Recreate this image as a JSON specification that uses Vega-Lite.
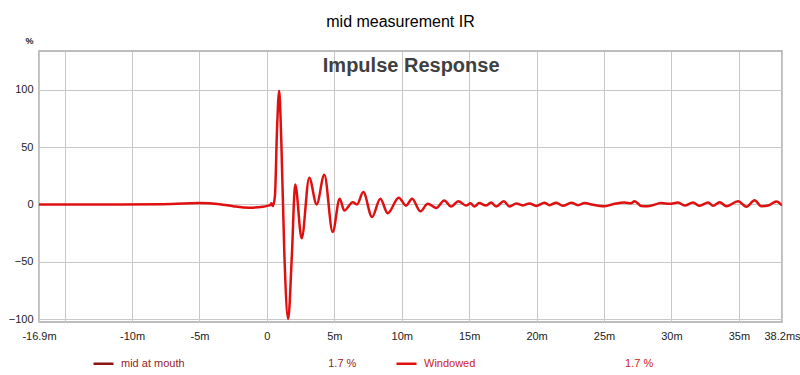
{
  "$schema": "https://vega.github.io/schema/vega-lite/v6.json",
  "width": 743,
  "height": 271,
  "autosize": {"type": "none"},
  "padding": {"left": 39, "top": 51, "right": 18, "bottom": 53},
  "background": "white",
  "title": {"text": "mid measurement IR", "font": "Liberation Sans", "fontSize": 16, "fontWeight": "normal", "color": "#000000", "offset": 6, "dx": -10, "anchor": "middle"},
  "config": {
    "view": {"stroke": "#a8a8a8", "strokeWidth": 1.5},
    "axis": {"gridColor": "#c8c8c8", "gridWidth": 1, "domain": false, "ticks": false, "labelFont": "Liberation Sans", "labelFontSize": 11, "labelColor": "#222222", "titleFont": "Liberation Sans"}
  },
  "layer": [
    {
      "data": {"values": [
        {"t": -16.9, "v": 0, "series": "Windowed"},
        {"t": -12, "v": 0, "series": "Windowed"},
        {"t": -8, "v": 0.3, "series": "Windowed"},
        {"t": -5, "v": 1.2, "series": "Windowed"},
        {"t": -3.5, "v": 0.3, "series": "Windowed"},
        {"t": -2.5, "v": -1.5, "series": "Windowed"},
        {"t": -1.3, "v": -2.8, "series": "Windowed"},
        {"t": -0.3, "v": -2, "series": "Windowed"},
        {"t": 0.1, "v": -1, "series": "Windowed"},
        {"t": 0.25, "v": -0.5, "series": "Windowed"},
        {"t": 0.33, "v": 1, "series": "Windowed"},
        {"t": 0.45, "v": -1.3, "series": "Windowed"},
        {"t": 0.6, "v": 8, "series": "Windowed"},
        {"t": 0.75, "v": 65, "series": "Windowed"},
        {"t": 0.91, "v": 99.4, "series": "Windowed"},
        {"t": 1.07, "v": 55, "series": "Windowed"},
        {"t": 1.3, "v": -45, "series": "Windowed"},
        {"t": 1.58, "v": -100, "series": "Windowed"},
        {"t": 1.85, "v": -45, "series": "Windowed"},
        {"t": 2.1, "v": 17.5, "series": "Windowed"},
        {"t": 2.58, "v": -29.5, "series": "Windowed"},
        {"t": 3.14, "v": 23.4, "series": "Windowed"},
        {"t": 3.69, "v": 0, "series": "Windowed"},
        {"t": 4.26, "v": 26, "series": "Windowed"},
        {"t": 4.88, "v": -24, "series": "Windowed"},
        {"t": 5.4, "v": 5, "series": "Windowed"},
        {"t": 5.74, "v": -5.3, "series": "Windowed"},
        {"t": 6.36, "v": 2, "series": "Windowed"},
        {"t": 6.68, "v": 0, "series": "Windowed"},
        {"t": 7.15, "v": 10.8, "series": "Windowed"},
        {"t": 7.8, "v": -11, "series": "Windowed"},
        {"t": 8.41, "v": 5, "series": "Windowed"},
        {"t": 8.96, "v": -7.6, "series": "Windowed"},
        {"t": 9.78, "v": 5.9, "series": "Windowed"},
        {"t": 10.32, "v": -1, "series": "Windowed"},
        {"t": 10.77, "v": 5, "series": "Windowed"},
        {"t": 11.38, "v": -6, "series": "Windowed"},
        {"t": 11.93, "v": 0.6, "series": "Windowed"},
        {"t": 12.55, "v": -3, "series": "Windowed"},
        {"t": 13.16, "v": 3.5, "series": "Windowed"},
        {"t": 13.66, "v": -1.8, "series": "Windowed"},
        {"t": 14.2, "v": 2.9, "series": "Windowed"},
        {"t": 14.77, "v": -0.9, "series": "Windowed"},
        {"t": 15.1, "v": 1, "series": "Windowed"},
        {"t": 15.39, "v": -1.8, "series": "Windowed"},
        {"t": 15.74, "v": 1.2, "series": "Windowed"},
        {"t": 16.26, "v": -0.9, "series": "Windowed"},
        {"t": 16.63, "v": 1.7, "series": "Windowed"},
        {"t": 17.0, "v": -1.8, "series": "Windowed"},
        {"t": 17.57, "v": 2.9, "series": "Windowed"},
        {"t": 17.99, "v": -1.8, "series": "Windowed"},
        {"t": 18.49, "v": 0.9, "series": "Windowed"},
        {"t": 18.98, "v": -0.9, "series": "Windowed"},
        {"t": 19.47, "v": 0.9, "series": "Windowed"},
        {"t": 19.97, "v": -1.3, "series": "Windowed"},
        {"t": 20.59, "v": 1.5, "series": "Windowed"},
        {"t": 20.96, "v": -0.6, "series": "Windowed"},
        {"t": 21.45, "v": 1.5, "series": "Windowed"},
        {"t": 21.95, "v": -1.2, "series": "Windowed"},
        {"t": 22.57, "v": 1.5, "series": "Windowed"},
        {"t": 23.07, "v": -0.6, "series": "Windowed"},
        {"t": 23.56, "v": 1.2, "series": "Windowed"},
        {"t": 24.18, "v": -0.3, "series": "Windowed"},
        {"t": 25.04, "v": -1.5, "series": "Windowed"},
        {"t": 25.78, "v": 0.6, "series": "Windowed"},
        {"t": 26.53, "v": 1.7, "series": "Windowed"},
        {"t": 27.0, "v": 1.0, "series": "Windowed"},
        {"t": 27.27, "v": 2.9, "series": "Windowed"},
        {"t": 27.77, "v": -1.3, "series": "Windowed"},
        {"t": 28.26, "v": -1.5, "series": "Windowed"},
        {"t": 29.25, "v": 1.2, "series": "Windowed"},
        {"t": 29.87, "v": 0.6, "series": "Windowed"},
        {"t": 30.49, "v": 1.7, "series": "Windowed"},
        {"t": 30.98, "v": -0.9, "series": "Windowed"},
        {"t": 31.6, "v": 1.7, "series": "Windowed"},
        {"t": 32.09, "v": -1.2, "series": "Windowed"},
        {"t": 32.72, "v": 1.7, "series": "Windowed"},
        {"t": 33.09, "v": -1.2, "series": "Windowed"},
        {"t": 33.58, "v": 2, "series": "Windowed"},
        {"t": 34.08, "v": -1.5, "series": "Windowed"},
        {"t": 34.94, "v": 2.9, "series": "Windowed"},
        {"t": 35.56, "v": -2, "series": "Windowed"},
        {"t": 36.17, "v": 3.8, "series": "Windowed"},
        {"t": 36.67, "v": -1.5, "series": "Windowed"},
        {"t": 37.17, "v": -0.9, "series": "Windowed"},
        {"t": 37.79, "v": 2.6, "series": "Windowed"},
        {"t": 38.2, "v": -0.9, "series": "Windowed"}
      ]},
      "mark": {"type": "line", "interpolate": "monotone", "strokeWidth": 2.5, "clip": true},
      "encoding": {
        "x": {"field": "t", "type": "quantitative",
          "scale": {"domain": [-16.9, 38.2], "nice": false, "zero": false},
          "axis": {"title": null, "values": [-16.9, -15, -10, -5, 0, 5, 10, 15, 20, 25, 30, 35, 38.2],
            "labelExpr": "datum.value == -15 ? '' : datum.value == 0 ? '0' : datum.value == 38.2 ? '38.2ms' : datum.value + 'm'",
            "labelPadding": 8, "labelFlush": false}},
        "y": {"field": "v", "type": "quantitative",
          "scale": {"domain": [-102.6, 134], "nice": false, "zero": false},
          "axis": {"title": "%", "titleAngle": 0, "titleX": -10, "titleY": -6, "titleAlign": "center", "titleFontSize": 9, "titleFontWeight": "bold", "titleColor": "#222222",
            "values": [-100, -50, 0, 50, 100], "labelPadding": 6}},
        "color": {"field": "series", "type": "nominal",
          "scale": {"domain": ["mid at mouth", "Windowed"], "range": ["#8b1414", "#e01010"]},
          "legend": {"title": null, "orient": "none", "legendX": 53, "legendY": 301, "direction": "horizontal",
            "symbolType": "stroke", "symbolSize": 400, "symbolStrokeWidth": 2.5, "labelFont": "Liberation Sans", "labelFontSize": 11, "labelColor": "#a01818",
            "labelOffset": 6, "columnPadding": 34, "labelLimit": 400,
            "labelExpr": "datum.label == 'Windowed' ? datum.label + '\u00a0\u00a0\u00a0\u00a0\u00a0\u00a0\u00a0\u00a0\u00a0\u00a0\u00a0\u00a0\u00a0\u00a0\u00a0\u00a0\u00a0\u00a0\u00a0\u00a0\u00a0\u00a0\u00a0\u00a0\u00a0\u00a0\u00a0\u00a0\u00a0\u00a0\u00a0\u00a0\u00a0\u00a0\u00a0\u00a0\u00a0\u00a0\u00a0\u00a0\u00a0\u00a0\u00a0\u00a0\u00a0\u00a0\u00a0\u00a0\u00a01.7 %' : datum.label + '\u00a0\u00a0\u00a0\u00a0\u00a0\u00a0\u00a0\u00a0\u00a0\u00a0\u00a0\u00a0\u00a0\u00a0\u00a0\u00a0\u00a0\u00a0\u00a0\u00a0\u00a0\u00a0\u00a0\u00a0\u00a0\u00a0\u00a0\u00a0\u00a0\u00a0\u00a0\u00a0\u00a0\u00a0\u00a0\u00a0\u00a0\u00a0\u00a0\u00a0\u00a0\u00a0\u00a0\u00a0\u00a0\u00a0\u00a01.7 %'",
            "encode": {"labels": {"update": {"fill": {"signal": "datum.value == 'Windowed' ? '#d02020' : '#9b1b1b'"}}}}}}
      }
    },
    {
      "data": {"values": [{"label": "Impulse Response"}]},
      "mark": {"type": "text", "font": "Liberation Sans", "fontSize": 20, "fontWeight": "bold", "color": "#404040", "align": "center", "baseline": "middle"},
      "encoding": {
        "x": {"datum": 10.7, "type": "quantitative"},
        "y": {"datum": 121, "type": "quantitative"},
        "text": {"field": "label"}
      }
    }
  ]
}
